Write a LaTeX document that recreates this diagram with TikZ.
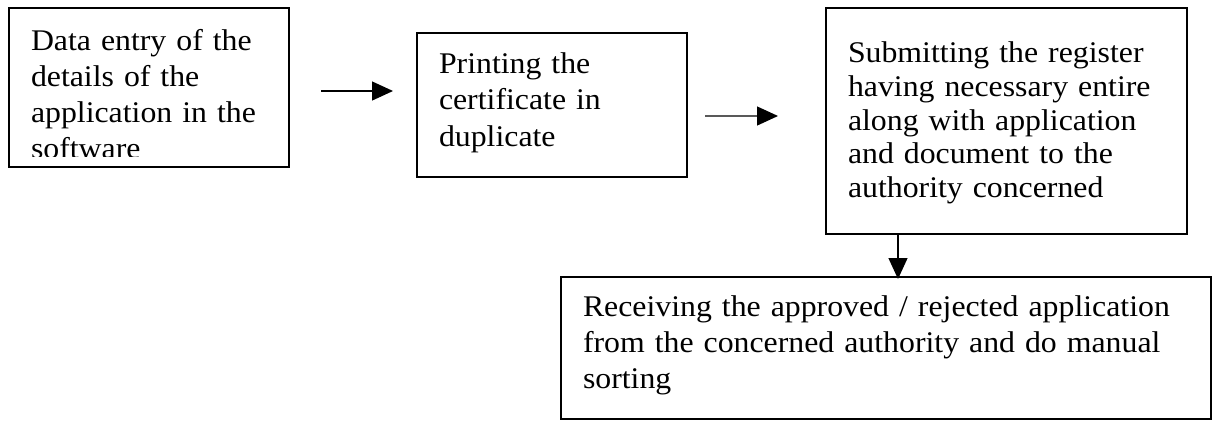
\documentclass[tikz,border=0pt]{standalone}
\usepackage{fontspec}
\setmainfont{Liberation Serif}[FakeStretch=1.06]
\usetikzlibrary{arrows.meta}
\newcommand\firstln[1]{\rule{0pt}{#1pt}}
\newcommand\lastln[1]{\rule[-#1pt]{0pt}{#1pt}}
\begin{document}
\begin{tikzpicture}[x=1pt,y=-1pt,
  boxnode/.style={anchor=north west, inner xsep=22pt, inner ysep=0pt, outer sep=0pt,
                  align=left, line width=1.3pt},
  flowarrow/.style={line width=1.3pt, -{Triangle[length=21pt,width=19pt]}},
]
\useasboundingbox (0,0) rectangle (1214,421);

% Box 1 (text clipped at the bottom, as in the original)
\begin{scope}
  \clip (0,0) rectangle (300,156.5);
  \node[boxnode, text width=236pt, font=\fontsize{30}{36}\selectfont] (b1) at (9,8)
    {\firstln{42}Data entry of the\\details of the\\application in the\\software\lastln{9}};
\end{scope}
\draw[line width=1.3pt] (b1.north west) rectangle (b1.south east);

% Box 2
\node[boxnode, draw, text width=226pt, font=\fontsize{30}{36.5}\selectfont] (b2) at (417,33)
  {\firstln{40}Printing the\\certificate in\\duplicate\lastln{31}};

% Box 3
\node[boxnode, draw, text width=317pt, font=\fontsize{30}{33.7}\selectfont] (b3) at (826,8)
  {\firstln{54.7}Submitting the register\\having necessary entire\\along with application\\and document to the\\authority concerned\lastln{36.5}};

% Box 4
\node[boxnode, draw, text width=606pt, font=\fontsize{30}{36}\selectfont] (b4) at (561,277)
  {\firstln{39}Receiving the approved / rejected application\\from the concerned authority and do manual\\sorting\lastln{31}};

% Connectors
\draw[flowarrow, shorten <=32pt, shorten >=24pt] ([yshift=-3.5pt]b1.east) -- ([yshift=14pt]b2.west);
\draw[flowarrow, shorten <=18pt, shorten >=48pt] ([yshift=-11pt]b2.east) -- ([yshift=5pt]b3.west);
\draw[flowarrow, shorten >=-2pt] ([xshift=-108.5pt]b3.south) -- ([xshift=12pt]b4.north);
\end{tikzpicture}
\end{document}
